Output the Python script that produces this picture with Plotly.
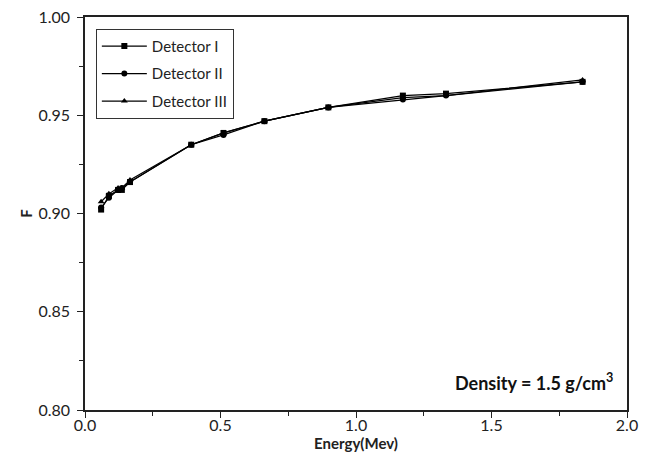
import plotly.graph_objects as go

energy = [0.0595, 0.0881, 0.122, 0.136, 0.166, 0.392, 0.511, 0.662, 0.898, 1.173, 1.332, 1.836]
det1 = [0.902, 0.909, 0.912, 0.912, 0.916, 0.935, 0.941, 0.947, 0.954, 0.960, 0.961, 0.967]
det2 = [0.903, 0.908, 0.912, 0.913, 0.916, 0.935, 0.940, 0.947, 0.954, 0.958, 0.960, 0.967]
det3 = [0.906, 0.910, 0.913, 0.913, 0.917, 0.935, 0.941, 0.947, 0.954, 0.959, 0.960, 0.968]
names = ["Detector I", "Detector II", "Detector III"]
symbols = ["square", "circle", "triangle-up"]

fig = go.Figure()
for i, (name, ys, sym) in enumerate(zip(names, [det1, det2, det3], symbols)):
    fig.add_trace(go.Scatter(
        x=energy, y=ys, name=name, mode="lines+markers", legendgroup=f"g{i}",
        line=dict(color="black", width=1.2),
        marker=dict(symbol=sym, size=6, color="black"),
    ))

fig.update_layout(
    width=650, height=473,
    margin=dict(l=77, r=31, t=9, b=71),
    paper_bgcolor="white", plot_bgcolor="white",
    font=dict(family="Lato, Open Sans, DejaVu Sans", size=15, color="#222"),
    legend=dict(
        x=0.02, y=0.97, xanchor="left", yanchor="top",
        bordercolor="#333", borderwidth=1, bgcolor="white",
        font=dict(size=15), itemwidth=45, tracegroupgap=5,
        entrywidth=130,
    ),
    xaxis=dict(
        range=[0, 2.0], tickvals=[0, 0.5, 1.0, 1.5, 2.0],
        ticktext=["0.0", "0.5", "1.0", "1.5", "2.0"],
        ticks="outside", ticklen=6, tickwidth=1.2, tickcolor="#222",
        minor=dict(tickvals=[0.25, 0.75, 1.25, 1.75], ticks="outside", ticklen=4, tickcolor="#222"),
        showline=True, linecolor="#222", linewidth=1.5, mirror=True,
        showgrid=False, zeroline=False, automargin=False,
        ticklabeloverflow="allow", ticklabelstandoff=-6,
        title=dict(text="<b>Energy(Mev)</b>", font=dict(size=15), standoff=0),
        tickfont=dict(size=16),
    ),
    yaxis=dict(
        range=[0.80, 1.00], tickvals=[0.80, 0.85, 0.90, 0.95, 1.00],
        ticktext=["0.80", "0.85", "0.90", "0.95", "1.00"],
        ticks="outside", ticklen=6, tickwidth=1.2, tickcolor="#222",
        minor=dict(tickvals=[0.825, 0.875, 0.925, 0.975], ticks="outside", ticklen=4, tickcolor="#222"),
        showline=True, linecolor="#222", linewidth=1.5, mirror=True,
        showgrid=False, zeroline=False, automargin=False,
        ticklabeloverflow="allow",
        ticklabelstandoff=4,
        title=dict(text="<b>F</b>", font=dict(size=15), standoff=2),
        tickfont=dict(size=16),
    ),
)

fig.add_annotation(
    x=0.978, y=0.07, xref="paper", yref="paper", xanchor="right", yanchor="middle",
    text="<b>Density = 1.5 g/cm<sup>3</sup></b>", showarrow=False,
    font=dict(size=18, color="#111"),
)

fig.write_html("out.html")
